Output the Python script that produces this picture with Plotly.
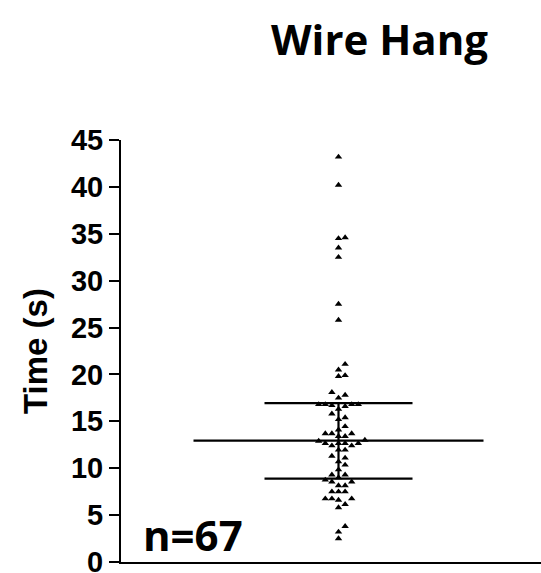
import numpy as np
import plotly.graph_objects as go

# ---- data -------------------------------------------------------------
chart_title = "Wire Hang"
y_axis_title = "Time (s)"
n_text = "n=67"

# hang times in seconds, one per animal
hang_times = [
    43.2, 40.2, 34.6, 34.5, 33.5, 32.5, 27.5, 25.8, 21.1, 20.5, 19.9, 19.8,
    18.1, 17.8, 17.5,
    16.8, 16.8, 16.7, 16.8, 16.6, 16.8,
    16.3, 15.8, 15.4, 15.2, 14.45, 14.1,
    13.7, 13.7, 13.7, 13.4, 13.4, 13.0,
    12.65, 12.65, 12.65, 12.65, 12.9, 12.4, 12.4,
    11.95, 11.95, 11.3, 11.1, 10.7, 10.35, 9.85,
    9.3, 9.3, 9.0,
    8.55, 8.55, 8.75, 8.15, 8.15,
    7.5, 7.5, 7.5,
    6.75, 6.75, 6.75, 6.6, 6.15, 5.8,
    3.8, 3.2, 2.5,
]

# summary bars: median with interquartile range
median_value = 12.95
lower_quartile = 8.9
upper_quartile = 16.95

y_tick_values = [0, 5, 10, 15, 20, 25, 30, 35, 40, 45]

# ---- layout constants -------------------------------------------------
W, H = 541, 573
M_L, M_R, M_T, M_B = 121, 0, 140, 11
Y_MAX = 45
X_RANGE = [-1.0, 0.931]
plot_h = H - M_T - M_B
plot_w = W - M_L - M_R
px_per_x = plot_w / (X_RANGE[1] - X_RANGE[0])
px_per_y = plot_h / Y_MAX

SLOT_PX = 6.6        # horizontal spacing between neighbouring dots
MIN_GAP_PX = 6.0     # vertical distance below which dots collide
MEDIAN_HALF_PX = 145
QUART_HALF_PX = 74


def swarm_slots(values, min_gap):
    """Simple column-scatter layout: push colliding dots sideways."""
    order = np.argsort(values, kind="stable")
    placed = []
    slots = np.zeros(len(values))
    candidates = [0]
    for k in range(1, 10):
        candidates += [k, -k]
    for i in order:
        v = values[i]
        for c in candidates:
            if all(abs(v - pv) >= min_gap for pv, ps in placed if ps == c):
                break
        placed.append((v, c))
        slots[i] = c
    return slots


vals = np.asarray(hang_times, dtype=float)
slots = swarm_slots(vals, MIN_GAP_PX / px_per_y)
x_pts = slots * SLOT_PX / px_per_x

fig = go.Figure()

# median / quartile bars
med_hw = MEDIAN_HALF_PX / px_per_x
q_hw = QUART_HALF_PX / px_per_x
line_style = dict(color="black", width=2.2)
fig.add_trace(go.Scatter(x=[-med_hw, med_hw], y=[median_value] * 2, mode="lines",
                         line=line_style, hoverinfo="skip", showlegend=False))
for q in (lower_quartile, upper_quartile):
    fig.add_trace(go.Scatter(x=[-q_hw, q_hw], y=[q, q], mode="lines",
                             line=line_style, hoverinfo="skip", showlegend=False))
fig.add_trace(go.Scatter(x=[0, 0], y=[lower_quartile, upper_quartile], mode="lines",
                         line=line_style, hoverinfo="skip", showlegend=False))

# individual animals
fig.add_trace(go.Scatter(
    x=x_pts, y=vals, mode="markers",
    marker=dict(symbol="triangle-up", size=6.5, color="black", line=dict(width=0)),
    showlegend=False,
))

fig.update_layout(
    width=W, height=H,
    margin=dict(l=M_L, r=M_R, t=M_T, b=M_B, autoexpand=False),
    paper_bgcolor="white", plot_bgcolor="white",
    showlegend=False,
    xaxis=dict(range=X_RANGE, showline=True, linecolor="black", linewidth=2,
               showgrid=False, zeroline=False, showticklabels=False, ticks="",
               automargin=False),
    yaxis=dict(range=[0, Y_MAX], tickvals=y_tick_values, ticks="outside",
               ticklen=10, tickwidth=2, tickcolor="black",
               showline=True, linecolor="black", linewidth=2,
               showgrid=False, zeroline=False, ticklabeloverflow="allow",
               automargin=False,
               tickfont=dict(family="Liberation Sans, Arial", size=29,
                             color="black", weight="bold")),
    font=dict(family="Liberation Sans, Arial", color="black"),
)

fig.add_annotation(
    text=y_axis_title, textangle=-90,
    xref="paper", yref="paper", x=(35 - M_L) / plot_w, y=0.5,
    xanchor="center", yanchor="middle", showarrow=False,
    font=dict(family="Liberation Sans, Arial", size=33, color="black", weight="bold"),
)

fig.add_annotation(
    text=chart_title,
    xref="paper", yref="paper", x=(379 - M_L) / plot_w, y=1 + (M_T - 39) / plot_h,
    xanchor="center", yanchor="middle", showarrow=False,
    font=dict(family="Open Sans", size=42, color="black", weight="bold"),
)

fig.add_annotation(
    text=n_text,
    xref="paper", yref="paper", x=(141 - M_L) / plot_w, y=(562 - 534) / plot_h,
    xanchor="left", yanchor="middle", showarrow=False,
    font=dict(family="Open Sans", size=42, color="black", weight="bold"),
)

fig.write_html("out.html")
